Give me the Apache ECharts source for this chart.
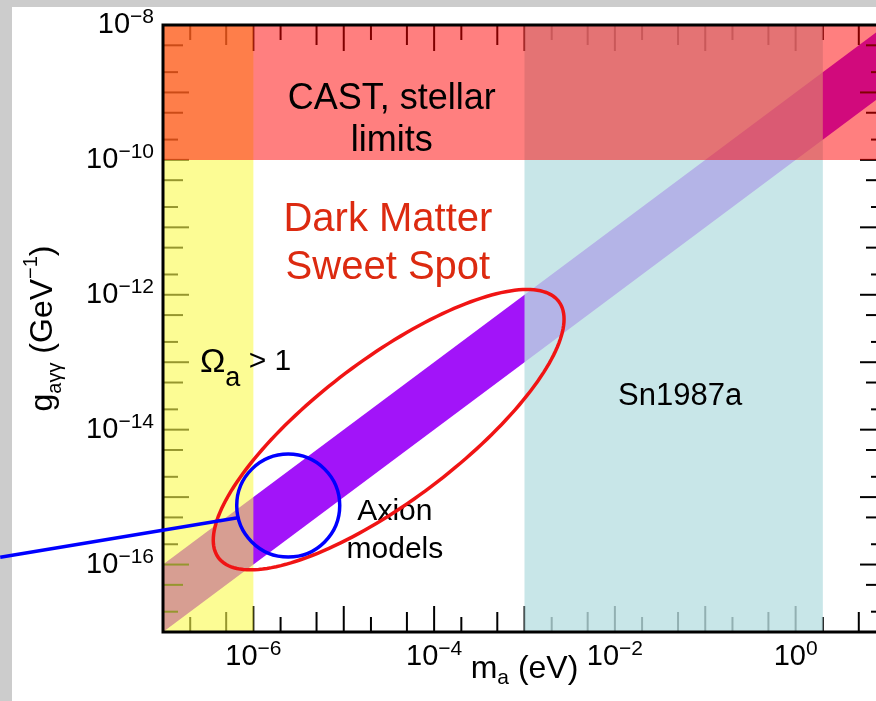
<!DOCTYPE html>
<html>
<head>
<meta charset="utf-8">
<script src="https://cdn.jsdelivr.net/npm/echarts@6/dist/echarts.min.js"></script>
<style>
html, body { margin: 0; padding: 0; background: #fff; }
#axion_plot { width: 876px; height: 701px; }
</style>
</head>
<body>
<div id="axion_plot"></div>
<script>
// axis ranges: m_a in eV, g_ayy in GeV^-1
var massRange = [1e-7, 1e1];
var couplingRange = [1e-17, 1e-8];
var massLabels = [1e-6, 1e-4, 1e-2, 1e0];
var couplingLabels = [1e-16, 1e-14, 1e-12, 1e-10, 1e-8];
var tickMantissas = [1, 2, 5];

// excluded regions
var omegaMass = [1e-7, 1e-6];
var snMass = [1e-3, 2];
var castCoupling = [1e-10, 1e-8];

// axion models band (g proportional to m)
var bandMass = [1e-7, 1e1];
var bandUpper = [1e-16, 1e-8];
var bandLower = [1e-17, 1e-9];

// annotation anchors (data coordinates)
var sweetSpotCenter = [3.14e-5, 1e-14];
var zoomCenter = [2.43e-6, 7.5e-16];
var leaderStart = [6.98e-7, 5.0e-16];
var leaderEnd = [1.58e-9, 1.28e-16];
var castLabelPos = [3.4e-5, 3.95e-10];
var sweetLabelPos = [3.08e-5, 5.6e-12];
var omegaLabelPos = [2.56e-7, 1e-13];
var snLabelPos = [5.28e-2, 3.13e-14];
var axionLabelPos = [3.68e-5, 3.19e-16];

var FONT = 'Liberation Sans, Arial, Helvetica, sans-serif';

function decadeTicks(range) {
    var out = [];
    var lo = Math.round(Math.log10(range[0]));
    var hi = Math.round(Math.log10(range[1]));
    for (var e = lo; e <= hi; e++) {
        tickMantissas.forEach(function (m) {
            var v = m * Math.pow(10, e);
            if (v <= range[1] * 1.0001) out.push(v);
        });
    }
    return out;
}
var massTicks = decadeTicks(massRange);
var couplingTicks = decadeTicks(couplingRange);

function tickLength(v) {
    var m = Math.round(v / Math.pow(10, Math.floor(Math.log10(v) + 1e-9)));
    return m === 1 ? 26 : (m === 5 ? 20 : 15);
}

function isLabel(list, v) {
    return list.some(function (l) { return Math.abs(Math.log10(l) - Math.log10(v)) < 1e-6; });
}

function powerLabel(v) {
    var e = Math.round(Math.log10(v));
    return '{b|10}{s|' + (e < 0 ? '\u2212' + (-e) : e) + '}';
}

var powerRich = {
    b: { fontSize: 29, lineHeight: 36, fontFamily: FONT, color: '#000' },
    s: { fontSize: 21, lineHeight: 21, verticalAlign: 'top', fontFamily: FONT, color: '#000' }
};

function rectSeries(xr, yr, fill, z) {
    return {
        type: 'custom',
        z: z,
        data: [[xr[0], yr[0], xr[1], yr[1]]],
        renderItem: function (params, api) {
            var p0 = api.coord([api.value(0), api.value(3)]);
            var p1 = api.coord([api.value(2), api.value(1)]);
            return {
                type: 'rect',
                shape: { x: p0[0], y: p0[1], width: p1[0] - p0[0], height: p1[1] - p0[1] },
                style: { fill: fill }
            };
        }
    };
}

function textSeries(pos, style, z) {
    return {
        type: 'custom',
        z: z,
        data: [pos],
        renderItem: function (params, api) {
            var p = api.coord([api.value(0), api.value(1)]);
            return { type: 'text', x: p[0], y: p[1], style: style };
        }
    };
}

var axion_plot = echarts.init(document.getElementById('axion_plot'));

function getAxionOption() {
    return {
        animation: false,
        backgroundColor: '#fff',
        graphic: [
            { type: 'rect', z: -10, shape: { x: 0, y: 0, width: 876, height: 7 }, style: { fill: '#cccccc' } },
            { type: 'rect', z: -10, shape: { x: 0, y: 0, width: 12, height: 701 }, style: { fill: '#cccccc' } }
        ],
        grid: {
            show: true,
            z: 6,
            left: 163,
            top: 25,
            width: 723,
            height: 607,
            containLabel: false,
            outerBoundsMode: 'none',
            backgroundColor: 'transparent',
            borderColor: '#000',
            borderWidth: 3
        },
        xAxis: {
            type: 'log',
            logBase: 10,
            min: massRange[0],
            max: massRange[1],
            axisLine: { show: false },
            axisTick: { show: false },
            splitLine: { show: false },
            axisLabel: {
                margin: 7,
                formatter: function (v) { return isLabel(massLabels, v) ? powerLabel(v) : ''; },
                rich: powerRich
            },
            name: '{m|m}{sub|a}{m| (eV)}',
            nameLocation: 'middle',
            nameGap: 17,
            nameMoveOverlap: false,
            nameTextStyle: {
                rich: {
                    m: { fontSize: 32, lineHeight: 40, fontFamily: FONT, color: '#000' },
                    sub: { fontSize: 21, lineHeight: 21, verticalAlign: 'bottom', fontFamily: FONT, color: '#000' }
                }
            }
        },
        yAxis: {
            type: 'log',
            logBase: 10,
            min: couplingRange[0],
            max: couplingRange[1],
            axisLine: { show: false },
            axisTick: { show: false },
            splitLine: { show: false },
            axisLabel: {
                margin: 9,
                formatter: function (v) { return isLabel(couplingLabels, v) ? powerLabel(v) : ''; },
                rich: powerRich
            },
            name: '{g|g}{sub|a\u03b3\u03b3}{g| (GeV}{sup|\u22121}{g|)}',
            nameLocation: 'middle',
            nameGap: 98,
            nameMoveOverlap: false,
            nameTextStyle: {
                rich: {
                    g: { fontSize: 32, lineHeight: 44, fontFamily: FONT, color: '#000' },
                    sub: { fontSize: 20, lineHeight: 20, verticalAlign: 'bottom', fontFamily: FONT, color: '#000' },
                    sup: { fontSize: 20, lineHeight: 20, verticalAlign: 'top', fontFamily: FONT, color: '#000' }
                }
            }
        },
        series: [
            // axion models band
            {
                type: 'custom',
                z: 1,
                data: [[bandMass[0], bandUpper[0], bandLower[0]], [bandMass[1], bandUpper[1], bandLower[1]]],
                renderItem: function (params, api) {
                    if (params.dataIndex !== 0) return;
                    var a0 = api.coord([bandMass[0], bandUpper[0]]);
                    var a1 = api.coord([bandMass[1], bandUpper[1]]);
                    var b1 = api.coord([bandMass[1], bandLower[1]]);
                    var b0 = api.coord([bandMass[0], bandLower[0]]);
                    return { type: 'polygon', shape: { points: [a0, a1, b1, b0] }, style: { fill: '#a214f9' } };
                }
            },
            // tick marks on all four sides
            {
                type: 'custom',
                z: 2,
                data: massTicks.map(function (v) { return [v, couplingRange[0]]; }),
                renderItem: function (params, api) {
                    var cs = params.coordSys;
                    var x = api.coord([api.value(0), couplingRange[0]])[0];
                    var len = tickLength(api.value(0));
                    var st = { stroke: '#000', lineWidth: 2 };
                    return {
                        type: 'group', children: [
                            { type: 'line', shape: { x1: x, y1: cs.y + cs.height, x2: x, y2: cs.y + cs.height - len }, style: st },
                            { type: 'line', shape: { x1: x, y1: cs.y, x2: x, y2: cs.y + len }, style: st }
                        ]
                    };
                }
            },
            {
                type: 'custom',
                z: 2,
                data: couplingTicks.map(function (v) { return [massRange[0], v]; }),
                renderItem: function (params, api) {
                    var cs = params.coordSys;
                    var y = api.coord([massRange[0], api.value(1)])[1];
                    var len = tickLength(api.value(1));
                    var st = { stroke: '#000', lineWidth: 2 };
                    return {
                        type: 'group', children: [
                            { type: 'line', shape: { x1: cs.x, y1: y, x2: cs.x + len, y2: y }, style: st },
                            { type: 'line', shape: { x1: cs.x + cs.width, y1: y, x2: cs.x + cs.width - len, y2: y }, style: st }
                        ]
                    };
                }
            },
            // excluded regions
            rectSeries(omegaMass, couplingRange, 'rgba(250,250,77,0.6)', 3),
            rectSeries(snMass, couplingRange, 'rgba(185,223,226,0.79)', 3),
            rectSeries(massRange, castCoupling, 'rgba(255,0,0,0.5)', 3),
            // labels
            textSeries(castLabelPos, {
                text: 'CAST, stellar\nlimits', fontSize: 36, lineHeight: 42, fontFamily: FONT,
                fill: '#000', align: 'center', verticalAlign: 'middle'
            }, 4),
            textSeries(sweetLabelPos, {
                text: 'Dark Matter\nSweet Spot', fontSize: 40, lineHeight: 48, fontFamily: FONT,
                fill: '#dc2a10', align: 'center', verticalAlign: 'middle'
            }, 4),
            textSeries(omegaLabelPos, {
                text: '{w|\u03a9}{sub|a}{o| > 1}', align: 'left', verticalAlign: 'middle',
                rich: {
                    w: { fontSize: 34, lineHeight: 60, fontFamily: FONT, fill: '#000' },
                    o: { fontSize: 30, lineHeight: 60, fontFamily: FONT, fill: '#000' },
                    sub: { fontSize: 27, lineHeight: 27, verticalAlign: 'bottom', fontFamily: FONT, fill: '#000' }
                }
            }, 4),
            textSeries(snLabelPos, {
                text: 'Sn1987a', fontSize: 31, fontFamily: FONT,
                fill: '#000', align: 'center', verticalAlign: 'middle'
            }, 4),
            textSeries(axionLabelPos, {
                text: 'Axion\nmodels', fontSize: 30, lineHeight: 38, fontFamily: FONT,
                fill: '#000', align: 'center', verticalAlign: 'middle'
            }, 4),
            // sweet spot ellipse
            {
                type: 'custom',
                z: 5,
                data: [sweetSpotCenter],
                renderItem: function (params, api) {
                    var c = api.coord([api.value(0), api.value(1)]);
                    var a = 213, b = 71, th = 37 * Math.PI / 180;
                    var pts = [];
                    for (var i = 0; i < 180; i++) {
                        var t = i / 180 * 2 * Math.PI;
                        pts.push([
                            c[0] + a * Math.cos(t) * Math.cos(th) - b * Math.sin(t) * Math.sin(th),
                            c[1] - (a * Math.cos(t) * Math.sin(th) + b * Math.sin(t) * Math.cos(th))
                        ]);
                    }
                    return { type: 'polygon', shape: { points: pts }, style: { fill: 'none', stroke: '#f01414', lineWidth: 3.5 } };
                }
            },
            // zoom circle and leader line
            {
                type: 'custom',
                z: 7,
                data: [[zoomCenter[0], zoomCenter[1], leaderStart[0], leaderStart[1], leaderEnd[0], leaderEnd[1]]],
                renderItem: function (params, api) {
                    var c = api.coord([api.value(0), api.value(1)]);
                    var s = api.coord([api.value(2), api.value(3)]);
                    var e = api.coord([api.value(4), api.value(5)]);
                    return {
                        type: 'group', children: [
                            { type: 'circle', shape: { cx: c[0], cy: c[1], r: 51.5 }, style: { fill: 'none', stroke: '#0000ff', lineWidth: 3.5 } },
                            { type: 'line', shape: { x1: s[0], y1: s[1], x2: e[0], y2: e[1] }, style: { stroke: '#0000ff', lineWidth: 3.5 } }
                        ]
                    };
                }
            }
        ]
    };
}

axion_plot.setOption(getAxionOption());
window.addEventListener('resize', function () { axion_plot.resize(); });
</script>
</body>
</html>
